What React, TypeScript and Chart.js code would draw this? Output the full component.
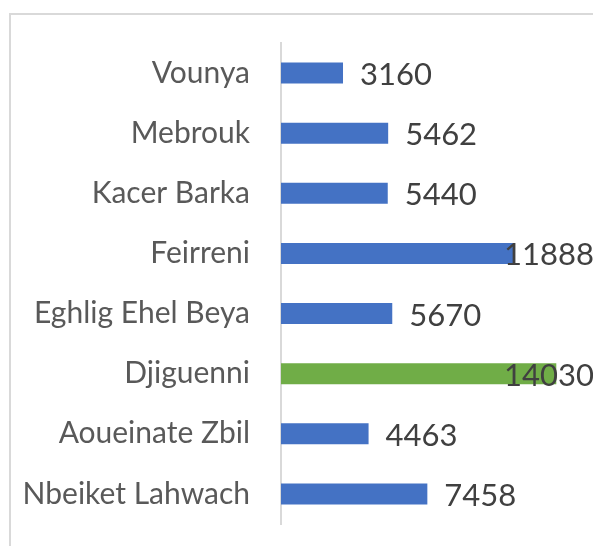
import React, { useEffect, useRef } from "react";
import { Chart, registerables } from "chart.js";

Chart.register(...registerables);

const categories = [
  "Vounya",
  "Mebrouk",
  "Kacer Barka",
  "Feirreni",
  "Eghlig Ehel Beya",
  "Djiguenni",
  "Aoueinate Zbil",
  "Nbeiket Lahwach",
];
const values = [3160, 5462, 5440, 11888, 5670, 14030, 4463, 7458];
const highlight = "Djiguenni";
const BLUE = "#4472c4";
const GREEN = "#70ad47";

const framePlugin = {
  id: "frame",
  beforeDraw(chart: any) {
    const ctx = chart.ctx;
    ctx.save();
    ctx.strokeStyle = "#d9d9d9";
    ctx.lineWidth = 2;
    ctx.beginPath();
    ctx.moveTo(10, chart.height);
    ctx.lineTo(10, 14);
    ctx.lineTo(chart.width, 14);
    ctx.stroke();
    ctx.restore();
  },
};

const valueLabels = {
  id: "valueLabels",
  afterDatasetsDraw(chart: any) {
    const ctx = chart.ctx;
    const meta = chart.getDatasetMeta(0);
    ctx.save();
    ctx.font = "31px Lato";
    ctx.fillStyle = "#404040";
    ctx.textBaseline = "middle";
    ctx.textAlign = "left";
    meta.data.forEach((bar: any, i: number) => {
      const text = String(values[i]);
      const w = ctx.measureText(text).width;
      const x = Math.min(bar.x + 17, chart.width - w + 1);
      ctx.fillText(text, x, bar.y + 2);
    });
    ctx.restore();
  },
};

export default function App() {
  const ref = useRef<HTMLCanvasElement>(null);
  useEffect(() => {
    if (!ref.current) return;
    const chart = new Chart(ref.current, {
      type: "bar",
      data: {
        labels: categories,
        datasets: [
          {
            data: values,
            backgroundColor: categories.map((c) => (c === highlight ? GREEN : BLUE)),
            categoryPercentage: 1,
            barPercentage: 0.35,
          },
        ],
      },
      options: {
        indexAxis: "y",
        animation: false,
        responsive: false,
        maintainAspectRatio: false,
        layout: { padding: { left: 0, top: 43, bottom: 22, right: 0 } },
        plugins: { legend: { display: false }, tooltip: { enabled: false } },
        scales: {
          x: {
            display: false,
            min: 0,
            max: 15900,
          },
          y: {
            afterFit: (scale: any) => {
              scale.width = 281;
              scale.paddingTop = 0;
              scale.paddingBottom = 0;
            },
            grid: { display: false, drawTicks: false },
            border: { display: true, color: "#d9d9d9", width: 2 },
            ticks: {
              padding: 31,
              color: "#595959",
              font: { family: "Lato", size: 30 },
            },
          },
        },
      },
      plugins: [framePlugin, valueLabels],
    });
    return () => chart.destroy();
  }, []);
  return (
    <div style={{ position: "absolute", left: 0, top: 0, width: 593, height: 546, background: "#fff" }}>
      <canvas ref={ref} width={593} height={546} style={{ display: "block" }} />
    </div>
  );
}
